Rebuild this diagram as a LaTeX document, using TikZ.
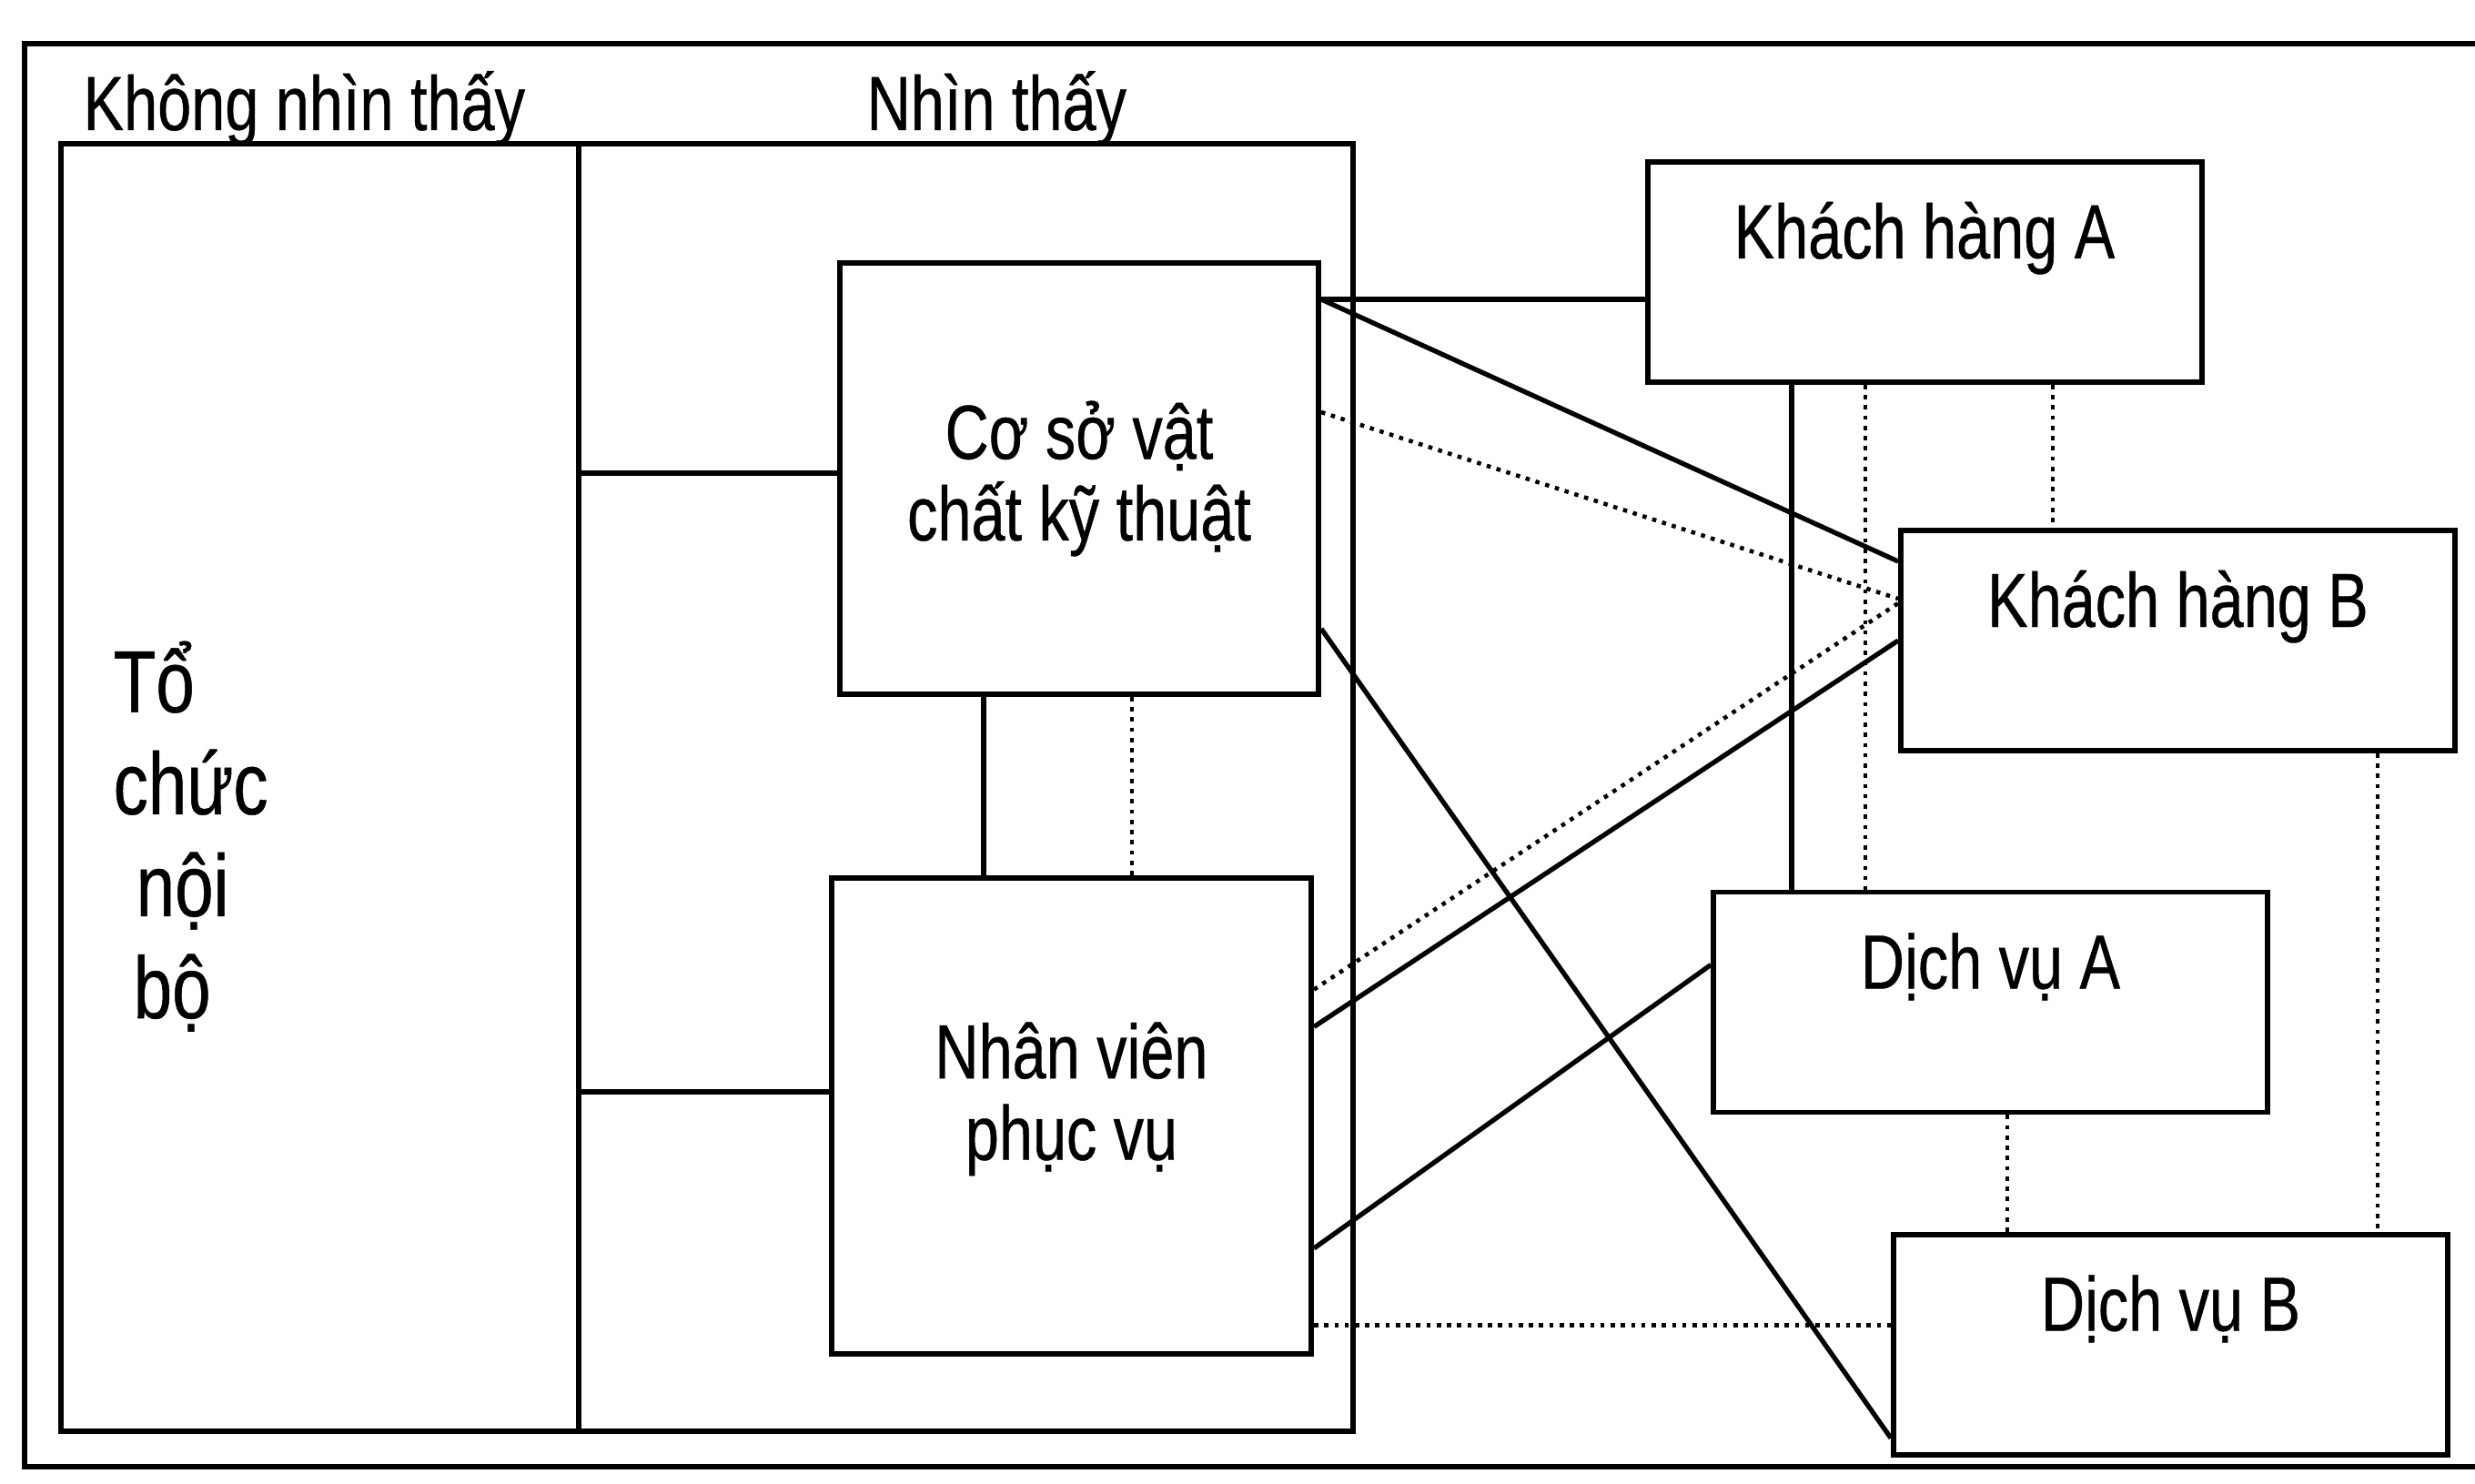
\documentclass[tikz,border=0pt]{standalone}
\usepackage{fontspec}
\setmainfont{Liberation Sans}[FakeStretch=0.79,FakeBold=0.5]
\tikzset{
  hop/.style={draw,line width=1.7pt,inner sep=0pt,align=center},
  khach/.style={hop,minimum width=6.09cm,minimum height=2.42cm,text height=0.6cm,text depth=0.9cm},
  lien/.style={line width=1.5pt},
  cham/.style={line width=1.3pt,dash pattern=on 1.3pt off 1.9pt},
}
\begin{document}
\begin{tikzpicture}[font=\fontsize{24}{25.5}\selectfont]
\useasboundingbox (0,0) rectangle (27.2,16.3);
% khung ngoai
\draw[line width=1.7pt] (27.2,15.82)--(0.27,15.82)--(0.27,0.18)--(27.2,0.18);
\node[hop,minimum width=5.69cm,minimum height=14.15cm] (noibo) at (3.515,7.645) {};
\node[hop,minimum width=8.51cm,minimum height=14.15cm] (hien) at (10.615,7.645) {};
\node[anchor=base west,inner sep=0pt] (khongthay) at (0.91,14.87) {Không nhìn thấy};
\node[anchor=base west,inner sep=0pt] (thay) at (9.52,14.87) {Nhìn thấy};
\node[anchor=north west,inner sep=0pt,align=left,font=\fontsize{27.5}{31.9}\selectfont] (tochuc) at (1.24,9.26)
  {Tổ\\chức\\\hspace*{0.25cm}nội\\\hspace*{0.22cm}bộ};
% hai hop ben trong
\node[hop,minimum width=5.26cm,minimum height=4.74cm] (csvc) at (11.86,11.04) {Cơ sở vật\\chất kỹ thuật};
\node[hop,minimum width=5.27cm,minimum height=5.23cm] (nvpv) at (11.775,4.035) {Nhân viên\\phục vụ\\[-0.35cm]\mbox{}};
% khach hang, dich vu
\node[khach] (kha) at (21.15,13.31) {Khách hàng A};
\node[khach] (khb) at (23.935,9.26) {Khách hàng B};
\node[khach] (dva) at (21.875,5.285) {Dịch vụ A};
\node[khach] (dvb) at (23.855,1.525) {Dịch vụ B};
% noi bo -> hai hop
\coordinate (h1) at ([yshift=0.06cm]csvc.west);
\draw[lien] (h1 -| noibo.east)--(h1);
\coordinate (h2) at ([yshift=0.265cm]nvpv.west);
\draw[lien] (h2 -| noibo.east)--(h2);
\coordinate (v1) at ([xshift=-1.05cm]csvc.south);
\draw[lien] (v1)--(v1 |- nvpv.north);
\coordinate (v2) at ([xshift=0.58cm]csvc.south);
\draw[cham] (v2)--(v2 |- nvpv.north);
% cac duong cheo
\coordinate (c1) at ([yshift=-0.43cm]csvc.north east);
\draw[lien] (c1)--(c1 -| kha.west);
\draw[lien] (c1)--([yshift=0.87cm]khb.west);
\draw[cham] ([yshift=0.73cm]csvc.east)--([yshift=0.46cm]khb.west);
\draw[lien] ([yshift=-1.65cm]csvc.east)--([yshift=-1.03cm]dvb.west);
\draw[cham] ([yshift=1.39cm]nvpv.east)--([yshift=0.41cm]khb.west);
\draw[lien] ([yshift=0.98cm]nvpv.east)--(khb.west);
\draw[lien] ([yshift=-1.455cm]nvpv.east)--([yshift=0.41cm]dva.west);
\coordinate (n1) at ([yshift=-2.30cm]nvpv.east);
\draw[cham] (n1)--(n1 -| dvb.west);
% cac duong doc ben phai
\coordinate (v3) at ([xshift=-1.46cm]kha.south);
\draw[lien] (v3)--(v3 |- dva.north);
\coordinate (v4) at ([xshift=-0.65cm]kha.south);
\draw[cham] (v4)--(v4 |- dva.north);
\coordinate (v5) at ([xshift=1.41cm]kha.south);
\draw[cham] (v5)--(v5 |- khb.north);
\coordinate (v6) at ([xshift=0.185cm]dva.south);
\draw[cham] (v6)--(v6 |- dvb.north);
\coordinate (v7) at ([xshift=2.195cm]khb.south);
\draw[cham] (v7)--(v7 |- dvb.north);
\end{tikzpicture}
\end{document}
